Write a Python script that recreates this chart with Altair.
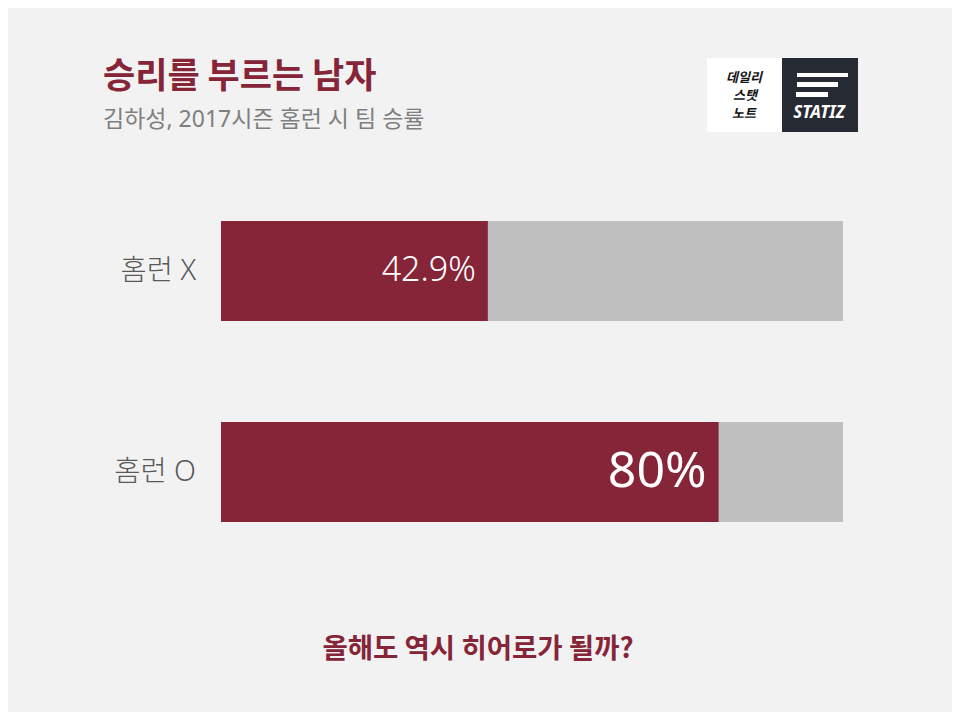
import altair as alt
import pandas as pd

# ---- data ----
categories = ["홈런 X", "홈런 O"]
win_rates = [42.9, 80.0]
value_labels = ["42.9%", "80%"]
full_scale = [100, 100]

title_text = "승리를 부르는 남자"
subtitle_text = "김하성, 2017시즌 홈런 시 팀 승률"
footer_text = "올해도 역시 히어로가 될까?"
logo_kr = ["데일리", "스탯", "노트"]
logo_en = "STATIZ"

df = pd.DataFrame({"cat": categories, "rate": win_rates,
                   "label": value_labels, "full": full_scale})

W, H = 944, 704
MAROON = "#862538"
FONT = "Noto Sans CJK KR"
MIX = "Noto Sans, Noto Sans CJK KR"

x_scale = alt.Scale(domain=[0, 100], range=[213, 835])
y_scale = alt.Scale(domain=categories, range=[213, 514], paddingInner=0.5025, paddingOuter=0)

base = alt.Chart(df)
Y = alt.Y("cat:N", scale=y_scale, axis=None, sort=categories)

bg = base.mark_bar(color="#bfbfbf").encode(
    x=alt.X("full:Q", scale=x_scale, axis=None), y=Y)
fg = base.mark_bar(color=MAROON).encode(
    x=alt.X("rate:Q", scale=x_scale, axis=None), y=Y)

lab1 = base.transform_filter(alt.datum.cat == categories[0]).mark_text(
    align="right", baseline="middle", dx=-12, color="white", fontSize=34, font=MIX, fontWeight=300
).encode(x=alt.X("rate:Q", scale=x_scale, axis=None), y=Y, text="label:N")
lab2 = base.transform_filter(alt.datum.cat == categories[1]).mark_text(
    align="right", baseline="middle", dx=-12, color="white", fontSize=50, font=MIX
).encode(x=alt.X("rate:Q", scale=x_scale, axis=None), y=Y, text="label:N")

cat_lab = base.mark_text(
    align="right", baseline="middle", color="#595959", fontSize=28.5, font=MIX, fontWeight=300
).encode(x=alt.value(188), y=Y, text="cat:N")


def txt(s, x, y, font=FONT, **kw):
    return alt.Chart(pd.DataFrame({"t": [s]})).mark_text(font=font, baseline="middle", **kw).encode(
        x=alt.value(x), y=alt.value(y), text="t:N")


title = txt(title_text, 95, 69, align="left", fontSize=35, fontWeight="bold", color=MAROON)
subtitle = txt(subtitle_text, 95, 112, font=MIX, align="left", fontSize=23, color="#7f7f7f")
footer = txt(footer_text, 470, 642, align="center", fontSize=27.5, fontWeight="bold", color=MAROON)

one = pd.DataFrame({"a": [0]})
logo_white = alt.Chart(one).mark_rect(color="white").encode(
    x=alt.value(699), x2=alt.value(774), y=alt.value(50), y2=alt.value(124))
logo_dark = alt.Chart(one).mark_rect(color="#262a33").encode(
    x=alt.value(774), x2=alt.value(850), y=alt.value(50), y2=alt.value(124))
s1 = alt.Chart(one).mark_rect(color="white").encode(
    x=alt.value(789), x2=alt.value(840), y=alt.value(65), y2=alt.value(69))
s2 = alt.Chart(one).mark_rect(color="white").encode(
    x=alt.value(789), x2=alt.value(830), y=alt.value(74), y2=alt.value(79))
s3 = alt.Chart(one).mark_rect(color="white").encode(
    x=alt.value(788), x2=alt.value(820), y=alt.value(84), y2=alt.value(89))
statiz = txt(logo_en, 811, 105, font="Noto Sans", align="center", fontSize=17, fontWeight="bold",
             fontStyle="italic", color="white")
kr1 = txt(logo_kr[0], 736, 70, align="center", fontSize=13, fontWeight="bold", fontStyle="italic", color="#111111")
kr2 = txt(logo_kr[1], 737, 88, align="center", fontSize=13, fontWeight="bold", fontStyle="italic", color="#111111")
kr3 = txt(logo_kr[2], 736, 106, align="center", fontSize=13, fontWeight="bold", fontStyle="italic", color="#111111")

chart = alt.layer(
    bg, fg, lab1, lab2, cat_lab, title, subtitle, footer,
    logo_white, logo_dark, s1, s2, s3, statiz, kr1, kr2, kr3
).properties(
    width=W, height=H, autosize=alt.AutoSizeParams(type="none"), padding=0
).configure(background="#f2f2f2").configure_view(stroke="transparent")

chart.save("out.html", embed_options={"renderer": "svg", "actions": False})
